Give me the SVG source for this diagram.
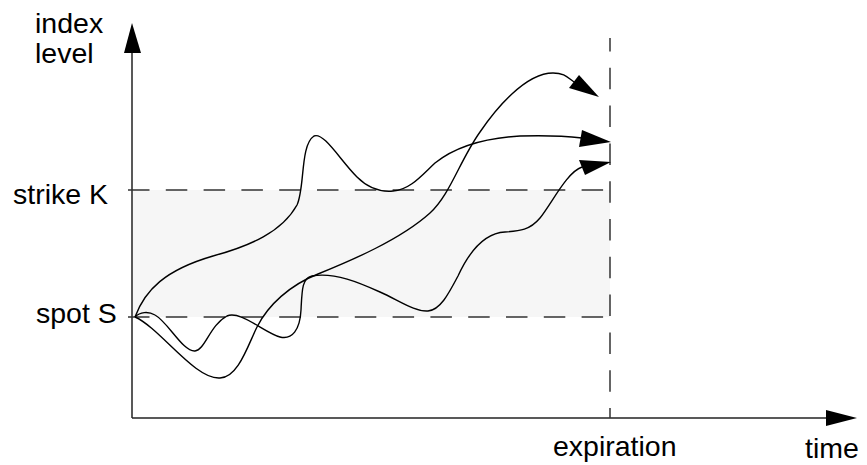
<svg xmlns="http://www.w3.org/2000/svg" width="867" height="465" viewBox="0 0 867 465">
<style>
text{font-family:"Liberation Sans",Arial,sans-serif;font-size:28.5px;fill:#000}
.axis{stroke:#222;stroke-width:1.5;fill:none}
.dash{stroke:#333;stroke-width:1.5;fill:none;stroke-dasharray:21.5 16.3}
.path{stroke:#000;stroke-width:1.4;fill:none}
.head{fill:#000;stroke:none}
</style>
<rect x="133" y="190" width="477" height="127" fill="#f6f6f6"/>
<g id="axes">
<line class="axis" x1="132" y1="50" x2="132" y2="418"/>
<polygon class="head" points="132,23 124,53 141,53"/>
<line class="axis" x1="132" y1="418" x2="828" y2="418"/>
<polygon class="head" points="857,418 826,410 826,426"/>
</g>
<g id="levels">
<line class="dash" x1="128" y1="190" x2="610" y2="190" stroke-dasharray="8 20 23 14" />
<line class="dash" x1="128" y1="317" x2="610" y2="317" stroke-dasharray="8 20 23 14"/>
<line class="dash" x1="610" y1="38" x2="610" y2="418" stroke-dashoffset="8"/>
</g>
<g id="labels">
<text x="35" y="33">index</text>
<text x="35" y="63">level</text>
<text x="13" y="204">strike K</text>
<text x="36" y="323">spot S</text>
<text x="553" y="456">expiration</text>
<text x="805" y="458">time</text>
</g>
<g id="connectors">
<path class="path" d="M135,317 C145,290 165,270 213,256 C250,246 282,232 297,205 C305,188 300,145 314,136 C324,132 340,160 357,177 C370,190 382,192 393,191 C410,190 422,175 435,163 C455,147 485,138 520,136 C550,135 565,136 582,138"/>
<polygon class="head" points="611,142 582,130 579,147"/>
<path class="path" d="M135,317 C160,328 195,380 220,378 C238,378 248,345 257,327 C268,305 290,285 318,274 C350,261 400,240 430,213 C450,195 460,160 480,132 C495,110 525,73 553,73 C565,73 568,78 574,82"/>
<polygon class="head" points="599,97 569,88 579,75"/>
<path class="path" d="M135,317 C140,312 148,311 155,315 C168,322 183,352 195,351 C205,350 210,325 227,316 C240,310 265,333 280,337 C292,340 300,330 301,310 C302,290 302,278 312,276 C335,272 360,283 380,292 C400,301 415,312 428,311 C440,310 448,295 458,276 C470,250 485,233 505,232 C520,231 530,230 540,218 C552,203 567,172 582,167"/>
<polygon class="head" points="611,162 579,160 585,175"/>
</g>
</svg>
